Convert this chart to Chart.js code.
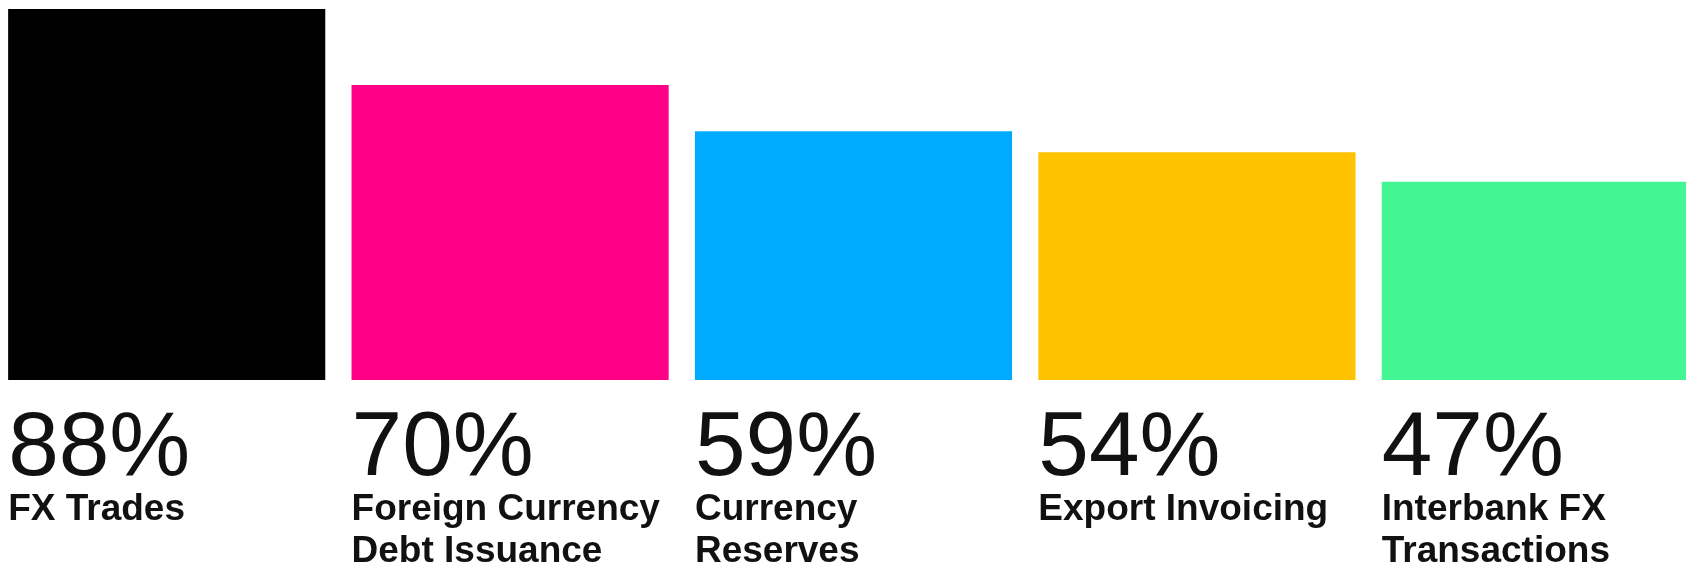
<!DOCTYPE html>
<html>
<head>
<meta charset="utf-8">
<script src="https://cdn.jsdelivr.net/npm/chart.js@4"></script>
<style>
    html, body { margin: 0; padding: 0; background: #fff; overflow: hidden; }
    body { width: 1686px; height: 568px; position: relative; }
    #wrap { position: absolute; left: -5px; top: 0; width: 1717px; height: 568px; }
</style>
</head>
<body>
<div id="wrap"><canvas id="shareChart"></canvas></div>
<script>
const categories = ['FX Trades', 'Foreign Currency Debt Issuance', 'Currency Reserves', 'Export Invoicing', 'Interbank FX Transactions'];
const labelLines = [
    ['FX Trades'],
    ['Foreign Currency', 'Debt Issuance'],
    ['Currency', 'Reserves'],
    ['Export Invoicing'],
    ['Interbank FX', 'Transactions']
];
const shares = [88, 70, 59, 54, 47];
const barColors = ['#000000', '#ff0087', '#00aaff', '#ffc200', '#44f594'];

// percentage and name printed under each bar, left aligned with it
const underLabels = {
    id: 'underLabels',
    afterDatasetsDraw(chart) {
        const ctx = chart.ctx
        const meta = chart.getDatasetMeta(0)
        ctx.save()
        ctx.textAlign = 'left'
        ctx.textBaseline = 'alphabetic'
        meta.data.forEach((bar, i) => {
            const left = bar.x - bar.width / 2
            ctx.fillStyle = '#111111'
            ctx.font = '91px "Liberation Sans", Arial, sans-serif'
            ctx.fillText(shares[i] + '%', left, 475)
            ctx.font = 'bold 37px "Liberation Sans", Arial, sans-serif'
            labelLines[i].forEach((line, j) => {
                ctx.fillText(line, left, 520 + j * 42)
            })
        })
        ctx.restore()
    }
}

const data = {
    labels: categories,
    datasets: [{
        label: 'Share',
        data: shares,
        backgroundColor: barColors,
        borderWidth: 0,
        categoryPercentage: 1,
        barPercentage: 0.9235
    }]
};

const config = {
    type: 'bar',
    data: data,
    options: {
        responsive: true,
        maintainAspectRatio: false,
        animation: false,
        layout: { padding: { top: 9, bottom: 188, left: 0, right: 0 } },
        plugins: {
            legend: { display: false },
            tooltip: { enabled: false }
        },
        scales: {
            x: { display: false },
            y: { display: false, min: 0, max: 88 }
        }
    },
    plugins: [underLabels]
};

let ctx = document.getElementById('shareChart').getContext('2d')
new Chart(ctx, config)
</script>
</body>
</html>
